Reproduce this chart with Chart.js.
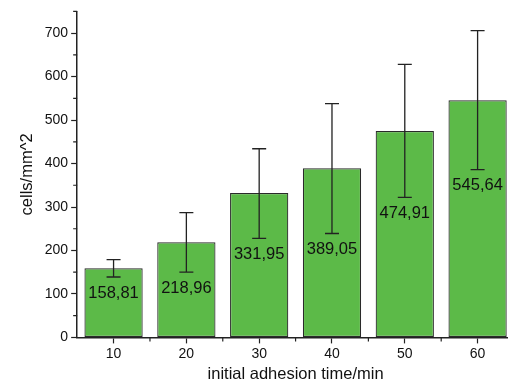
<!DOCTYPE html>
<html>
<head>
<meta charset="utf-8">
<script src="https://cdn.jsdelivr.net/npm/chart.js@4"></script>
<style>
  html, body { margin: 0; padding: 0; background: #fff; overflow: hidden; }
  #wrap { width: 514px; height: 384px; }
</style>
</head>
<body>
<div id="wrap"><canvas id="myChart" width="514" height="384"></canvas></div>
<script>
// adhesion time (min) and mean cell density with error bars
var times = ['10', '20', '30', '40', '50', '60'];
var cells = [158.81, 218.96, 331.95, 389.05, 474.91, 545.64];
var errLow = [139, 150, 228, 239, 322, 386];
var errHigh = [179, 287, 434, 538, 628, 706];
var yTicks = [0, 100, 200, 300, 400, 500, 600, 700];

var fam = '"Liberation Sans", Arial, sans-serif';

function fmt(v) {
    return v.toFixed(2).replace('.', ',');
}

// error bars, minor ticks and the value labels inside the bars
var extras = {
    id: 'extras',
    afterDatasetsDraw: function (chart) {
        var ctx = chart.ctx;
        var x = chart.scales.x, y = chart.scales.y;
        var meta = chart.getDatasetMeta(0);
        ctx.save();
        ctx.strokeStyle = '#222';
        ctx.lineWidth = 1.3;
        for (var k = 0; k < cells.length; k++) {
            var px = meta.data[k].x;
            var lo = y.getPixelForValue(errLow[k]);
            var hi = y.getPixelForValue(errHigh[k]);
            ctx.beginPath();
            ctx.moveTo(px, lo); ctx.lineTo(px, hi);
            ctx.moveTo(px - 7, lo); ctx.lineTo(px + 7, lo);
            ctx.moveTo(px - 7, hi); ctx.lineTo(px + 7, hi);
            ctx.stroke();
            ctx.fillStyle = '#111';
            ctx.font = '16.5px ' + fam;
            ctx.textAlign = 'center';
            ctx.textBaseline = 'middle';
            ctx.fillText(fmt(cells[k]), px, lo + 16);
        }
        // minor ticks
        ctx.lineWidth = 1.2;
        ctx.beginPath();
        for (var v = 50; v <= 750; v += 100) {
            var py = y.getPixelForValue(v);
            ctx.moveTo(y.right, py); ctx.lineTo(y.right - 4, py);
        }
        for (var j = 1; j < times.length; j++) {
            var mx = (x.getPixelForValue(j - 1) + x.getPixelForValue(j)) / 2;
            ctx.moveTo(mx, x.top); ctx.lineTo(mx, x.top + 4);
        }
        ctx.stroke();
        ctx.restore();
    }
};

window.onload = function () {
    var ctx = document.getElementById('myChart').getContext('2d');
    new Chart(ctx, {
        type: 'bar',
        data: {
            labels: times,
            datasets: [{
                data: cells,
                backgroundColor: 'rgb(92, 186, 72)',
                borderColor: '#2a2a2a',
                borderWidth: 1.2,
                borderSkipped: false,
                categoryPercentage: 1,
                barPercentage: 0.8
            }]
        },
        options: {
            responsive: false,
            animation: false,
            layout: { padding: { top: 11, right: 0, left: 18, bottom: 0 } },
            plugins: { legend: { display: false }, tooltip: { enabled: false } },
            scales: {
                x: {
                    offset: true,
                    grid: { offset: false, drawOnChartArea: false, tickLength: 6, color: '#222', tickWidth: 1.2 },
                    border: { color: '#222', width: 1.5 },
                    ticks: { color: '#111', font: { size: 14, family: fam }, padding: 2 },
                    title: { display: true, text: 'initial adhesion time/min', color: '#111', font: { size: 16.5, family: fam }, padding: { top: 0, bottom: 0 } }
                },
                y: {
                    min: 0,
                    max: 750,
                    afterBuildTicks: function (s) {
                        s.ticks = yTicks.map(function (v) { return { value: v }; });
                    },
                    grid: { drawOnChartArea: false, tickLength: 6, color: '#222', tickWidth: 1.2 },
                    border: { color: '#222', width: 1.5 },
                    ticks: { color: '#111', font: { size: 14, family: fam }, padding: 3 },
                    title: { display: true, text: 'cells/mm^2', color: '#111', font: { size: 16.5, family: fam }, padding: { top: 0, bottom: 4 } }
                }
            }
        },
        plugins: [extras]
    });
};
</script>
</body>
</html>
